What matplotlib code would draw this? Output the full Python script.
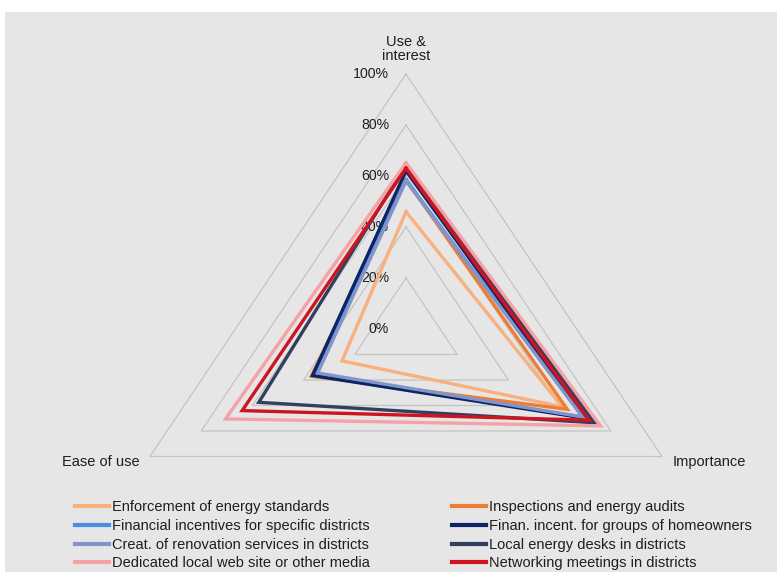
import numpy as np
import matplotlib
matplotlib.use("Agg")
from matplotlib import pyplot
from matplotlib.lines import Line2D
from matplotlib.patches import Rectangle

# axes of the radar (clockwise from top)
axis_names = ["Use &\ninterest", "Importance", "Ease of use"]

series_names = [
    "Enforcement of energy standards",
    "Inspections and energy audits",
    "Financial incentives for specific districts",
    "Finan. incent. for groups of homeowners",
    "Creat. of renovation services in districts",
    "Local energy desks in districts",
    "Dedicated local web site or other media",
    "Networking meetings in districts",
]
use_interest = [0.46, 0.585, 0.585, 0.62, 0.58, 0.643, 0.652, 0.63]
importance = [0.61, 0.63, 0.69, 0.70, 0.69, 0.735, 0.76, 0.715]
ease_of_use = [0.25, 0.37, 0.36, 0.365, 0.345, 0.575, 0.705, 0.64]

colors = ["#f7b07e", "#ee7d31", "#4a8fe6", "#0a2466",
          "#8394c8", "#333f60", "#f5a2a6", "#d0141f"]

grid_levels = [0.2, 0.4, 0.6, 0.8, 1.0]
tick_levels = [0.0, 0.2, 0.4, 0.6, 0.8, 1.0]

FONT = "Liberation Sans"
TEXT = "#1e1e1e"

angles = np.deg2rad([90, -30, 210])


def _to_xy(values):
    v = np.asarray(values + values[:1])
    a = np.concatenate([angles, angles[:1]])
    return v * np.cos(a), v * np.sin(a)


fig = pyplot.figure(figsize=(7.77, 5.72), dpi=100)
fig.patch.set_facecolor("white")
fig.patches.append(Rectangle((5 / 777, 0), 1, 1 - 12 / 572, transform=fig.transFigure,
                             facecolor="#e6e6e6", edgecolor="none", zorder=-10))

ax = fig.add_axes([0, 0, 1, 1])
ax.set_facecolor("none")
ax.set_xlim(-406 / 295.6, (777 - 406) / 295.6)
ax.set_ylim(-243 / 255, (572 - 243) / 255)
ax.axis("off")

for lvl in grid_levels:
    gx, gy = _to_xy([lvl] * 3)
    ax.plot(gx, gy, color="#c4c4c4", lw=0.9, zorder=1)

for lvl in tick_levels:
    ax.text(-0.0575, lvl, f"{lvl:.0%}", ha="right", va="center",
            fontsize=10.2, family=FONT, color=TEXT)

ax.text(0, 1.097, axis_names[0], ha="center", va="center", fontsize=10.5,
        family=FONT, color=TEXT, linespacing=1.0)
ax.text(0.903, -0.522, axis_names[1], ha="left", va="center", fontsize=10.5,
        family=FONT, color=TEXT)
ax.text(-0.9, -0.522, axis_names[2], ha="right", va="center", fontsize=10.5,
        family=FONT, color=TEXT)

handles = []
for name, u, im, e, c in zip(series_names, use_interest, importance, ease_of_use, colors):
    sx, sy = _to_xy([u, im, e])
    ax.plot(sx, sy, color=c, lw=2.4, solid_joinstyle="miter", zorder=3)
    handles.append(Line2D([], [], color=c, lw=3))

legend_kw = dict(frameon=False, handlelength=2.3, handletextpad=0.22,
                 labelspacing=0.33, borderpad=0, borderaxespad=0,
                 prop={"family": FONT, "size": 10.5})
leg1 = fig.legend(handles[0::2], series_names[0::2], loc="upper left",
                  bbox_to_anchor=(75 / 777, 1 - 500 / 572), **legend_kw)
leg2 = fig.legend(handles[1::2], series_names[1::2], loc="upper left",
                  bbox_to_anchor=(452 / 777, 1 - 500 / 572), **legend_kw)
for leg in (leg1, leg2):
    for t in leg.get_texts():
        t.set_color(TEXT)

fig.savefig("out.png", dpi=100)
